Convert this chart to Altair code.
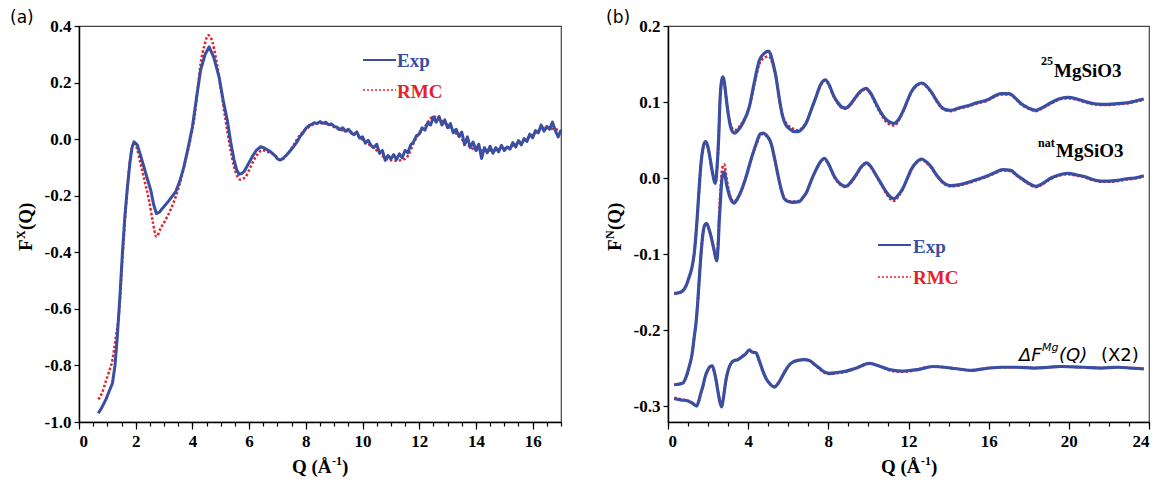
import altair as alt
import pandas as pd

# ---------------- panel (a): X-ray F(Q) ----------------
qa_exp = [0.68, 0.80, 0.95, 1.05, 1.18, 1.27, 1.35, 1.44, 1.53, 1.62, 1.71, 1.80, 1.87, 1.94,
          2.06, 2.18, 2.29, 2.41, 2.53, 2.63, 2.73, 2.84, 2.94, 3.15, 3.41, 3.55, 3.70, 3.85,
          4.00, 4.15, 4.29, 4.45, 4.59, 4.75, 4.94, 5.08, 5.23, 5.35, 5.47, 5.56, 5.64, 5.73,
          5.82, 5.96, 6.11, 6.25, 6.41, 6.55, 6.76, 6.95,
          7.0, 7.1, 7.2, 7.3, 7.4, 7.5, 7.6, 7.7, 7.8, 7.9, 8.0, 8.1, 8.2, 8.3, 8.4, 8.5, 8.6,
          8.7, 8.8, 8.9, 9.0, 9.1, 9.2, 9.3, 9.4, 9.5, 9.6, 9.7, 9.8, 9.9, 10.0, 10.1, 10.2,
          10.3, 10.4, 10.5, 10.6, 10.7, 10.8, 10.9, 11.0, 11.1, 11.2, 11.3, 11.4, 11.5, 11.6,
          11.7, 11.8, 11.9, 12.0, 12.1, 12.2, 12.3, 12.4, 12.5, 12.6, 12.7, 12.8, 12.9, 13.0,
          13.1, 13.2, 13.3, 13.4, 13.5, 13.6, 13.7, 13.8, 13.9, 14.0, 14.1, 14.2, 14.3, 14.4,
          14.5, 14.6, 14.7, 14.8, 14.9, 15.0, 15.1, 15.2, 15.3, 15.4, 15.5, 15.6, 15.7, 15.8,
          15.9, 16.0, 16.1, 16.2, 16.3, 16.4, 16.5, 16.6, 16.7, 16.8, 16.9, 17.0]
fa_exp = [-0.969, -0.950, -0.920, -0.895, -0.863, -0.800, -0.700, -0.560, -0.404, -0.270,
          -0.168, -0.080, -0.030, -0.009, -0.021, -0.060, -0.098, -0.140, -0.180, -0.230,
          -0.263, -0.258, -0.245, -0.220, -0.186, -0.150, -0.098, -0.030, 0.044, 0.150,
          0.244, 0.300, 0.326, 0.290, 0.220, 0.140, 0.067, -0.010, -0.074, -0.108, -0.124,
          -0.122, -0.115, -0.090, -0.062, -0.040, -0.027, -0.032, -0.045, -0.062,
          -0.070, -0.074, -0.068, -0.058, -0.047, -0.035, -0.022, -0.008, 0.010, 0.022,
          0.038, 0.047, 0.052, 0.058, 0.055, 0.062, 0.056, 0.060, 0.051, 0.054, 0.045,
          0.042, 0.034, 0.040, 0.028, 0.035, 0.022, 0.016, 0.026, 0.004, 0.008, -0.014,
          -0.004, -0.022, -0.030, -0.018, -0.050, -0.040, -0.075, -0.058, -0.070, -0.055,
          -0.072, -0.052, -0.066, -0.040, -0.048, -0.020, -0.010, 0.012, 0.018, 0.040,
          0.032, 0.058, 0.050, 0.078, 0.060, 0.080, 0.050, 0.068, 0.040, 0.055, 0.022,
          0.035, 0.010, 0.025, -0.020, 0.008, -0.030, -0.010, -0.040, -0.018, -0.068,
          -0.030, -0.048, -0.025, -0.050, -0.030, -0.045, -0.022, -0.040, -0.028, -0.035,
          -0.012, -0.028, -0.005, -0.020, 0.002, -0.008, 0.018, 0.005, 0.030, 0.022, 0.050,
          0.028, 0.045, 0.035, 0.060, 0.030, 0.008, 0.032]

qa_rmc = [0.68, 0.80, 0.95, 1.05, 1.18, 1.30, 1.41, 1.53, 1.64, 1.76, 1.85, 1.94, 2.05, 2.17,
          2.32, 2.47, 2.60, 2.73, 2.88, 3.05, 3.25, 3.41, 3.60, 3.76, 3.93, 4.09, 4.20, 4.29,
          4.42, 4.56, 4.70, 4.82, 5.00, 5.17, 5.33, 5.47, 5.58, 5.67, 5.78, 5.88, 6.02, 6.17,
          6.32, 6.47, 6.65, 6.82, 7.11, 7.30, 7.53, 7.80, 8.11, 8.47, 8.80, 9.20, 9.60,
          10.10, 10.50, 10.90, 11.20, 11.50, 11.90, 12.20, 12.50, 12.80, 13.20, 13.60,
          14.00, 14.50, 15.00, 15.50, 16.00, 16.40, 16.80, 17.00]
fa_rmc = [-0.920, -0.900, -0.855, -0.825, -0.780, -0.700, -0.616, -0.428, -0.260, -0.110,
          -0.040, -0.013, -0.035, -0.086, -0.150, -0.216, -0.290, -0.345, -0.315, -0.286,
          -0.245, -0.204, -0.140, -0.074, 0.000, 0.091, 0.190, 0.267, 0.330, 0.367, 0.345,
          0.291, 0.180, 0.067, -0.030, -0.098, -0.130, -0.143, -0.140, -0.133, -0.105,
          -0.074, -0.050, -0.039, -0.045, -0.051, -0.074, -0.060, -0.027, 0.015, 0.043,
          0.057, 0.052, 0.033, 0.026, -0.010, -0.040, -0.072, -0.076, -0.070, 0.005, 0.045,
          0.080, 0.065, 0.030, -0.010, -0.038, -0.040, -0.032, -0.015, 0.015, 0.040, 0.035,
          0.030]

xa_major = [0, 2, 4, 6, 8, 10, 12, 14, 16]
xa_minor = [i * 0.5 for i in range(35)]
ya_ticks = [-1.0, -0.8, -0.6, -0.4, -0.2, 0.0, 0.2, 0.4]

# ---------------- panel (b): neutron F(Q) ----------------
qb_25 = [0.31, 0.65, 0.90, 1.06, 1.20, 1.31, 1.45, 1.56, 1.65, 1.73, 1.86, 1.96, 2.06, 2.20,
         2.36, 2.45, 2.53, 2.60, 2.66, 2.73, 2.80, 2.90, 2.98, 3.10, 3.22, 3.34, 3.50, 3.73,
         4.06, 4.30, 4.56, 4.80, 5.00, 5.10, 5.25, 5.39, 5.55, 5.72, 5.90, 6.05, 6.30, 6.47,
         6.70, 6.89, 7.15, 7.39, 7.60, 7.85, 8.05, 8.25, 8.45, 8.70, 8.88, 9.10, 9.38, 9.65,
         9.88, 10.10, 10.38, 10.65, 10.88, 11.10, 11.29, 11.50, 11.71, 11.95, 12.13, 12.40,
         12.66, 12.90, 13.12, 13.40, 13.62, 13.85, 14.12, 14.50, 14.95, 15.40, 15.95, 16.30,
         16.62, 17.03, 17.30, 17.61, 18.00, 18.36, 18.70, 19.11, 19.50, 19.95, 20.40, 20.77,
         21.20, 21.61, 22.00, 22.44, 22.90, 23.27, 23.74]
fb_25_exp = [-0.152, -0.150, -0.142, -0.130, -0.117, -0.099, -0.055, -0.011, 0.020, 0.037,
             0.048, 0.044, 0.032, 0.010, -0.007, 0.015, 0.054, 0.105, 0.125, 0.133, 0.128,
             0.106, 0.089, 0.070, 0.061, 0.059, 0.063, 0.072, 0.094, 0.125, 0.155, 0.164,
             0.167, 0.164, 0.150, 0.133, 0.105, 0.081, 0.069, 0.065, 0.061, 0.061, 0.065,
             0.072, 0.090, 0.107, 0.122, 0.129, 0.122, 0.109, 0.100, 0.093, 0.092, 0.097,
             0.107, 0.115, 0.118, 0.112, 0.098, 0.085, 0.077, 0.073, 0.072, 0.077, 0.087,
             0.102, 0.113, 0.122, 0.125, 0.121, 0.114, 0.102, 0.094, 0.090, 0.089, 0.092,
             0.095, 0.099, 0.103, 0.108, 0.111, 0.111, 0.106, 0.098, 0.092, 0.089, 0.093,
             0.099, 0.104, 0.106, 0.104, 0.101, 0.098, 0.097, 0.097, 0.098, 0.099, 0.101,
             0.104]
fb_25_rmc = [-0.152, -0.150, -0.142, -0.130, -0.117, -0.099, -0.055, -0.011, 0.020, 0.037,
             0.048, 0.044, 0.032, 0.010, -0.007, 0.015, 0.054, 0.105, 0.125, 0.131, 0.127,
             0.106, 0.090, 0.073, 0.065, 0.063, 0.066, 0.074, 0.094, 0.122, 0.150, 0.158,
             0.160, 0.158, 0.147, 0.131, 0.105, 0.083, 0.072, 0.068, 0.064, 0.063, 0.066,
             0.073, 0.090, 0.107, 0.121, 0.128, 0.121, 0.108, 0.099, 0.092, 0.091, 0.096,
             0.106, 0.114, 0.117, 0.111, 0.096, 0.083, 0.074, 0.070, 0.069, 0.075, 0.086,
             0.101, 0.112, 0.121, 0.124, 0.120, 0.113, 0.101, 0.093, 0.089, 0.088, 0.091,
             0.094, 0.098, 0.102, 0.107, 0.110, 0.110, 0.105, 0.097, 0.091, 0.088, 0.092,
             0.098, 0.103, 0.105, 0.103, 0.100, 0.097, 0.096, 0.096, 0.097, 0.098, 0.100,
             0.103]

qb_nat = [0.31, 0.73, 0.90, 1.06, 1.20, 1.31, 1.40, 1.48, 1.56, 1.65, 1.75, 1.85, 1.93, 2.03,
          2.15, 2.30, 2.43, 2.50, 2.56, 2.61, 2.70, 2.81, 2.92, 3.03, 3.15, 3.31, 3.45, 3.64,
          3.90, 4.14, 4.40, 4.60, 4.75, 4.95, 5.14, 5.30, 5.47, 5.62, 5.80, 6.00, 6.22, 6.55,
          6.75, 6.89, 7.15, 7.39, 7.60, 7.80, 8.00, 8.30, 8.60, 8.88, 9.10, 9.38, 9.65, 9.91,
          10.15, 10.38, 10.65, 10.88, 11.10, 11.29, 11.50, 11.71, 11.95, 12.13, 12.40, 12.66,
          12.90, 13.12, 13.40, 13.62, 13.85, 14.12, 14.50, 14.95, 15.40, 15.95, 16.30, 16.70,
          17.11, 17.35, 17.61, 18.00, 18.36, 18.70, 19.11, 19.50, 19.95, 20.40, 20.77, 21.20,
          21.61, 22.00, 22.44, 22.90, 23.27, 23.74]
fb_nat_exp = [-0.272, -0.270, -0.262, -0.248, -0.232, -0.209, -0.190, -0.165, -0.133, -0.099,
              -0.072, -0.061, -0.060, -0.066, -0.077, -0.095, -0.109, -0.090, -0.055, -0.033,
              0.000, 0.008, -0.008, -0.020, -0.029, -0.033, -0.028, -0.018, 0.002, 0.024,
              0.045, 0.058, 0.059, 0.055, 0.046, 0.028, 0.006, -0.012, -0.027, -0.031, -0.032,
              -0.031, -0.025, -0.020, -0.003, 0.011, 0.021, 0.026, 0.019, 0.002, -0.008,
              -0.011, -0.006, 0.004, 0.015, 0.020, 0.014, 0.004, -0.008, -0.018, -0.025,
              -0.027, -0.022, -0.014, 0.000, 0.011, 0.021, 0.025, 0.021, 0.015, 0.004, -0.003,
              -0.008, -0.010, -0.009, -0.006, -0.002, 0.003, 0.007, 0.011, 0.010, 0.005,
              0.000, -0.007, -0.011, -0.007, 0.000, 0.004, 0.006, 0.004, 0.002, -0.002,
              -0.004, -0.004, -0.003, -0.001, 0.000, 0.003]
fb_nat_rmc = [-0.272, -0.270, -0.262, -0.248, -0.232, -0.209, -0.190, -0.165, -0.133, -0.099,
              -0.072, -0.061, -0.060, -0.066, -0.077, -0.095, -0.108, -0.085, -0.045, -0.020,
              0.012, 0.018, 0.000, -0.016, -0.027, -0.031, -0.027, -0.017, 0.002, 0.024,
              0.044, 0.056, 0.058, 0.054, 0.045, 0.028, 0.006, -0.012, -0.026, -0.030, -0.031,
              -0.030, -0.025, -0.020, -0.003, 0.011, 0.021, 0.025, 0.018, 0.001, -0.009,
              -0.012, -0.007, 0.003, 0.014, 0.019, 0.013, 0.003, -0.009, -0.020, -0.028,
              -0.030, -0.024, -0.015, 0.000, 0.011, 0.020, 0.024, 0.020, 0.014, 0.003, -0.004,
              -0.009, -0.011, -0.010, -0.007, -0.003, 0.002, 0.006, 0.010, 0.009, 0.004,
              -0.001, -0.008, -0.012, -0.008, -0.001, 0.003, 0.005, 0.003, 0.001, -0.003,
              -0.005, -0.005, -0.004, -0.002, -0.001, 0.002]

qb_d = [0.31, 0.65, 0.98, 1.20, 1.43, 1.55, 1.65, 1.73, 1.85, 1.98, 2.10, 2.20, 2.30, 2.40,
        2.50, 2.60, 2.68, 2.76, 2.89, 3.00, 3.14, 3.30, 3.48, 3.70, 3.89, 4.06, 4.20, 4.39,
        4.55, 4.72, 4.90, 5.06, 5.31, 5.50, 5.64, 5.85, 6.05, 6.25, 6.47, 6.80, 7.05, 7.30,
        7.55, 7.80, 8.05, 8.40, 8.88, 9.40, 10.05, 10.50, 11.04, 11.63, 12.13, 12.46, 13.21,
        14.12, 15.12, 16.00, 16.62, 17.40, 18.28, 19.00, 19.61, 20.77, 21.60, 22.44, 23.10,
        23.74]
fb_d_exp = [-0.290, -0.292, -0.293, -0.296, -0.300, -0.292, -0.282, -0.275, -0.262, -0.253,
            -0.248, -0.247, -0.254, -0.266, -0.282, -0.296, -0.301, -0.290, -0.266, -0.253,
            -0.244, -0.240, -0.239, -0.235, -0.231, -0.226, -0.229, -0.230, -0.240, -0.253,
            -0.264, -0.270, -0.275, -0.270, -0.264, -0.254, -0.246, -0.242, -0.240, -0.239,
            -0.240, -0.245, -0.250, -0.255, -0.257, -0.256, -0.254, -0.250, -0.244, -0.247,
            -0.252, -0.254, -0.253, -0.252, -0.248, -0.250, -0.253, -0.250, -0.249, -0.249,
            -0.250, -0.249, -0.248, -0.249, -0.250, -0.249, -0.250, -0.251]
fb_d_rmc = [-0.289, -0.291, -0.293, -0.296, -0.299, -0.292, -0.282, -0.275, -0.262, -0.253,
            -0.248, -0.247, -0.254, -0.266, -0.282, -0.295, -0.300, -0.290, -0.266, -0.253,
            -0.244, -0.240, -0.239, -0.235, -0.231, -0.227, -0.229, -0.231, -0.241, -0.253,
            -0.264, -0.270, -0.274, -0.270, -0.263, -0.253, -0.246, -0.242, -0.240, -0.239,
            -0.240, -0.245, -0.251, -0.256, -0.258, -0.257, -0.255, -0.250, -0.244, -0.247,
            -0.253, -0.255, -0.254, -0.252, -0.248, -0.250, -0.253, -0.250, -0.249, -0.249,
            -0.250, -0.249, -0.248, -0.249, -0.250, -0.249, -0.250, -0.251]

xb_major = [0, 4, 8, 12, 16, 20, 24]
xb_minor = list(range(25))
yb_ticks = [-0.3, -0.2, -0.1, 0.0, 0.1, 0.2]

# ---------------- styling ----------------
BLUE = "#3a4ea2"
RED = "#e2232b"
SERIF = "Liberation Serif"
SANS = "DejaVu Sans"
MINUS_FIX = "replace(datum.label, '\u2212', '-')"

one = pd.DataFrame({"k": [0]})


def txt(s, x, y, size=19, font=SERIF, weight="bold", style="normal", color="black",
        angle=0, align="left", baseline="alphabetic"):
    return alt.Chart(one).mark_text(
        text=s, fontSize=size, font=font, fontWeight=weight, fontStyle=style,
        color=color, angle=angle, align=align, baseline=baseline
    ).encode(x=alt.value(x), y=alt.value(y))


def seg(x1, x2, y, color, width, dash=None):
    kw = {"strokeDash": dash} if dash else {}
    return alt.Chart(one).mark_rule(color=color, strokeWidth=width, **kw).encode(
        x=alt.value(x1), x2=alt.value(x2), y=alt.value(y))


def xaxes(domain, major, minor):
    sc = alt.Scale(domain=domain, nice=False, zero=False)
    xmaj = alt.X("Q:Q", scale=sc, axis=alt.Axis(values=major, tickSize=7, labelPadding=4,
                                                  format="d", title=None, orient="bottom"))
    xmin = alt.X("Q:Q", scale=sc, axis=alt.Axis(values=minor, tickSize=4, labels=False,
                                                  domain=False, title=None, orient="bottom"))
    return xmaj, xmin


def yaxis(domain, ticks):
    return alt.Y("F:Q", scale=alt.Scale(domain=domain, nice=False, zero=False),
                 axis=alt.Axis(values=ticks, format=".1f", tickSize=5, labelPadding=3,
                               title=None, labelExpr=MINUS_FIX))


def xtitle():
    return [txt("Q (\u00c5", 213, 447), txt("-1", 253, 439, size=12), txt(")", 263, 447)]


def ytitle(sup):
    return [txt("F", -47, 225, angle=270), txt(sup, -54, 213, size=12, angle=270),
            txt("(Q)", -47, 204, angle=270)]


# ---------------- panel (a) ----------------
dfa_exp = pd.DataFrame({"Q": qa_exp, "F": fa_exp})
dfa_rmc = pd.DataFrame({"Q": qa_rmc, "F": fa_rmc})
xa_maj, xa_min = xaxes([0, 17], xa_major, xa_minor)
ya = yaxis([-1.0, 0.4], ya_ticks)

a_rmc = alt.Chart(dfa_rmc).mark_line(color=RED, strokeWidth=2.5, strokeDash=[2.5, 2],
                                     interpolate="monotone").encode(x=xa_maj, y=ya)
a_exp = alt.Chart(dfa_exp).mark_line(color=BLUE, strokeWidth=3, strokeJoin="round",
                                     interpolate="linear").encode(x=xa_min, y=ya)

left = alt.layer(
    a_rmc, a_exp,
    seg(284, 317, 34, BLUE, 2), seg(284, 317, 64, RED, 1.5, [2, 2]),
    txt("Exp", 318, 41, color=BLUE), txt("RMC", 318, 72, color=RED),
    txt("(a)", -69, -3, size=17, font=SANS, weight="normal"),
    *xtitle(), *ytitle("X"),
).resolve_axis(x="independent").properties(width=482, height=396)

# ---------------- panel (b) ----------------
def long(q, f, name):
    return pd.DataFrame({"Q": q, "F": f, "s": name})


dfb_exp = pd.concat([long(qb_25, fb_25_exp, "25"), long(qb_nat, fb_nat_exp, "nat"),
                     long(qb_d, fb_d_exp, "d")])
dfb_rmc = pd.concat([long(qb_25, fb_25_rmc, "25"), long(qb_nat, fb_nat_rmc, "nat"),
                     long(qb_d, fb_d_rmc, "d")])
xb_maj, xb_min = xaxes([0, 24], xb_major, xb_minor)
yb = yaxis([-0.321, 0.2], yb_ticks)

b_rmc = alt.Chart(dfb_rmc).mark_line(color=RED, strokeWidth=2.5, strokeDash=[2.5, 2],
                                     interpolate="monotone").encode(x=xb_maj, y=yb, detail="s:N")
b_exp = alt.Chart(dfb_exp).mark_line(color=BLUE, strokeWidth=3.2,
                                     interpolate="monotone").encode(x=xb_min, y=yb, detail="s:N")

right = alt.layer(
    b_rmc, b_exp,
    seg(210, 243, 219, BLUE, 2), seg(210, 243, 251, RED, 1.5, [2, 2]),
    txt("Exp", 245, 227, color=BLUE), txt("RMC", 245, 258, color=RED),
    txt("25", 373, 39, size=12), txt("MgSiO3", 386, 51),
    txt("nat", 370, 121, size=12), txt("MgSiO3", 388, 131),
    txt("\u0394F", 351, 335, size=18, font=SANS, weight="normal", style="italic"),
    txt("Mg", 374, 325, size=11, font=SANS, weight="normal", style="italic"),
    txt("(Q)", 391, 335, size=18, font=SANS, weight="normal", style="italic"),
    txt("(X2)", 433, 335, size=18, font=SANS, weight="normal"),
    txt("(b)", -62, -3, size=17, font=SANS, weight="normal"),
    *xtitle(), *ytitle("N"),
).resolve_axis(x="independent").properties(width=481, height=396)

chart = alt.hconcat(left, right, spacing=107, bounds="flush").properties(
    padding={"left": 1, "top": 0, "right": 5, "bottom": 5}
).configure_view(
    stroke="#444", strokeWidth=1.2
).configure_axis(
    labelFont=SERIF, labelFontSize=17, labelFontWeight="bold", labelColor="black",
    domainColor="black", domainWidth=1.5, tickColor="black", tickWidth=1.2, grid=False
)

chart.save("out.html", embed_options={"renderer": "svg", "actions": False})
